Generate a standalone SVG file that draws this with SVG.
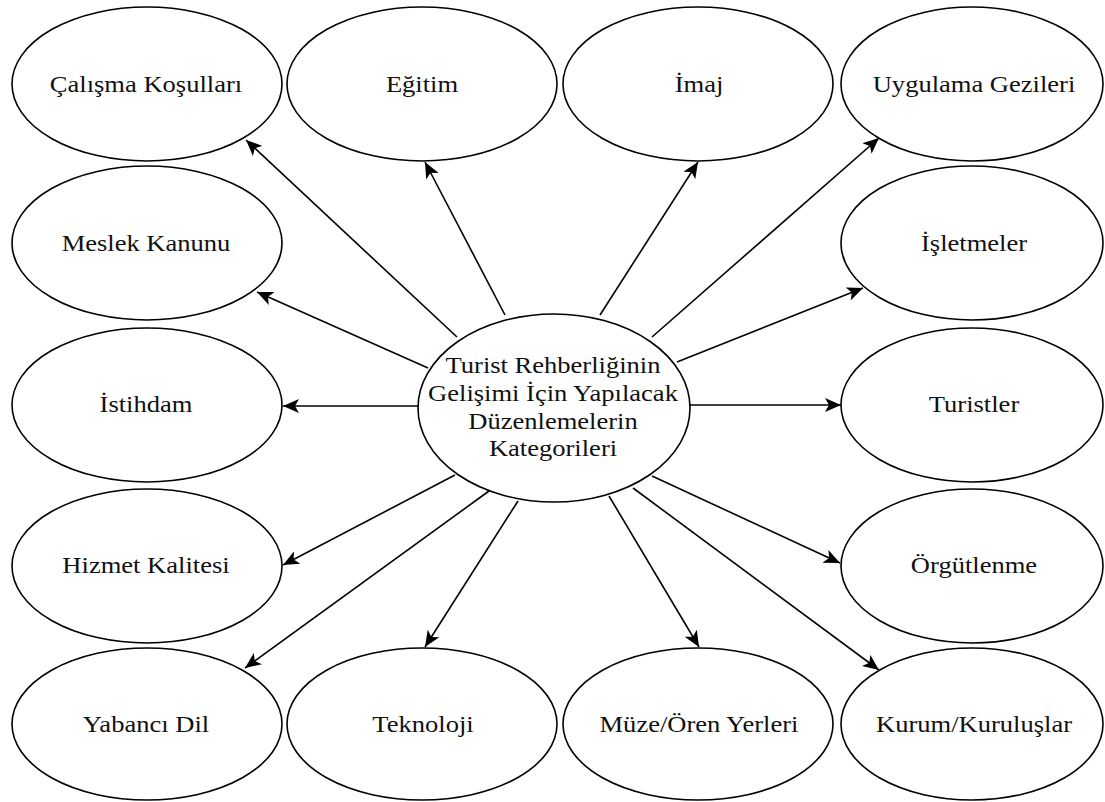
<svg xmlns="http://www.w3.org/2000/svg" width="1105" height="802" viewBox="0 0 1105 802">
<style>
.n{fill:#fff;stroke:#000;stroke-width:1.6}
.t{font-family:"Liberation Serif","Times New Roman",serif;font-size:22.5px;fill:#111;text-anchor:middle}
.c line{stroke:#000;stroke-width:1.6;marker-end:url(#ah)}
</style>
<defs>
<marker id="ah" markerUnits="userSpaceOnUse" markerWidth="18" markerHeight="14" refX="16" refY="7" orient="auto">
<path d="M0,0 L16,7 L0,14 L4,7 z" fill="#000"/>
</marker>
</defs>
<rect width="1105" height="802" fill="#fff"/>
<g id="center">
<ellipse class="n" cx="554" cy="408" rx="136" ry="94"/>
<text class="t" transform="translate(553 373) scale(1.18 1)">Turist Rehberliğinin</text>
<text class="t" transform="translate(553 401) scale(1.18 1)">Gelişimi İçin Yapılacak</text>
<text class="t" transform="translate(553 429) scale(1.18 1)">Düzenlemelerin</text>
<text class="t" transform="translate(553 456) scale(1.18 1)">Kategorileri</text>
</g>
<g id="calisma"><ellipse class="n" cx="147" cy="84" rx="135" ry="77"/><text class="t" transform="translate(146 92) scale(1.18 1)">Çalışma Koşulları</text></g>
<g id="egitim"><ellipse class="n" cx="422" cy="84" rx="135" ry="77"/><text class="t" transform="translate(422 92) scale(1.18 1)">Eğitim</text></g>
<g id="imaj"><ellipse class="n" cx="698" cy="84" rx="135" ry="77"/><text class="t" transform="translate(699 92) scale(1.18 1)">İmaj</text></g>
<g id="uygulama"><ellipse class="n" cx="972" cy="84" rx="131" ry="77"/><text class="t" transform="translate(974 92) scale(1.18 1)">Uygulama Gezileri</text></g>
<g id="meslek"><ellipse class="n" cx="147" cy="243" rx="135" ry="77"/><text class="t" transform="translate(146 251) scale(1.18 1)">Meslek Kanunu</text></g>
<g id="isletmeler"><ellipse class="n" cx="972" cy="243" rx="131" ry="77"/><text class="t" transform="translate(974 251) scale(1.18 1)">İşletmeler</text></g>
<g id="istihdam"><ellipse class="n" cx="147" cy="405" rx="135" ry="77"/><text class="t" transform="translate(146 412) scale(1.18 1)">İstihdam</text></g>
<g id="turistler"><ellipse class="n" cx="972" cy="405" rx="131" ry="77"/><text class="t" transform="translate(974 412) scale(1.18 1)">Turistler</text></g>
<g id="hizmet"><ellipse class="n" cx="147" cy="566" rx="135" ry="77"/><text class="t" transform="translate(146 573) scale(1.18 1)">Hizmet Kalitesi</text></g>
<g id="orgutlenme"><ellipse class="n" cx="972" cy="566" rx="131" ry="77"/><text class="t" transform="translate(974 573) scale(1.18 1)">Örgütlenme</text></g>
<g id="yabanci"><ellipse class="n" cx="147" cy="724" rx="135" ry="76"/><text class="t" transform="translate(146 732) scale(1.18 1)">Yabancı Dil</text></g>
<g id="teknoloji"><ellipse class="n" cx="422" cy="724" rx="135" ry="76"/><text class="t" transform="translate(423 732) scale(1.18 1)">Teknoloji</text></g>
<g id="muze"><ellipse class="n" cx="698" cy="724" rx="135" ry="76"/><text class="t" transform="translate(699 732) scale(1.18 1)">Müze/Ören Yerleri</text></g>
<g id="kurum"><ellipse class="n" cx="972" cy="724" rx="131" ry="76"/><text class="t" transform="translate(974 732) scale(1.18 1)">Kurum/Kuruluşlar</text></g>
<g id="connectors" class="c">
<line x1="457" y1="337" x2="246" y2="140"/>
<line x1="505" y1="315" x2="425" y2="162"/>
<line x1="600" y1="315" x2="698" y2="162"/>
<line x1="652" y1="337" x2="879" y2="138"/>
<line x1="428" y1="368" x2="257" y2="292"/>
<line x1="418" y1="406" x2="283" y2="406"/>
<line x1="677" y1="362" x2="863" y2="288"/>
<line x1="690" y1="405" x2="841" y2="405"/>
<line x1="455" y1="475" x2="283" y2="565"/>
<line x1="489" y1="491" x2="245" y2="668"/>
<line x1="518" y1="501" x2="425" y2="647"/>
<line x1="609" y1="496" x2="699" y2="647"/>
<line x1="633" y1="488" x2="879" y2="670"/>
<line x1="652" y1="476" x2="840" y2="563"/>
</g>
</svg>
